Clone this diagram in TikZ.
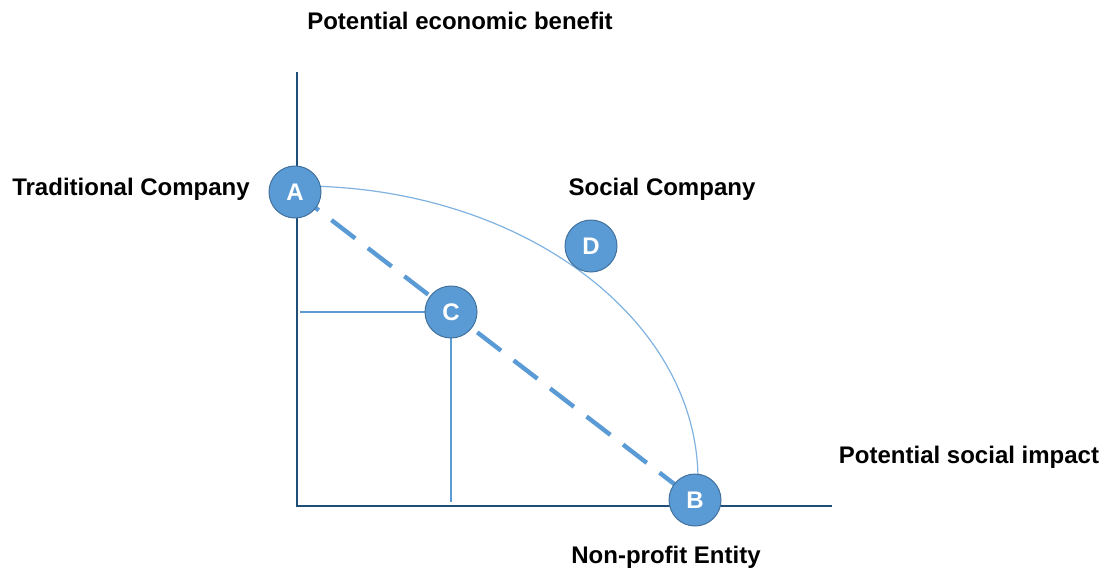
\documentclass[tikz,border=0pt]{standalone}
\usepackage{fontspec}
\setmainfont{Liberation Sans}
\begin{document}
\definecolor{axisblue}{HTML}{1F4E79}
\definecolor{midblue}{HTML}{5B9BD5}
\definecolor{rimblue}{HTML}{41719C}
\definecolor{arcblue}{HTML}{7FB2E0}
\begin{tikzpicture}[x=0.5pt,y=-0.5pt,
  axis/.style={draw=axisblue,line width=1.3pt},
  guide/.style={draw=midblue,line width=1.2pt},
  frontier/.style={draw=arcblue,line width=0.6pt},
  dashline/.style={draw=midblue,line width=2.2pt,dash pattern=on 15pt off 8pt},
  point/.style={circle,fill=midblue,draw=rimblue,line width=0.5pt,minimum size=26pt,inner sep=0pt,
    text=white,font=\bfseries\fontsize{12}{14}\selectfont},
  label/.style={font=\bfseries\fontsize{12}{14}\selectfont,text=black,inner sep=0pt}]
\useasboundingbox (0,0) rectangle (1106,574);
% axes
\coordinate (O) at (297,506);
\coordinate (ytop) at (297,72);
\coordinate (xend) at (832,506);
\draw[axis] (ytop) -- (O) -- (xend);
% points
\coordinate (Apos) at (295,192);
\coordinate (Bpos) at (695,500);
\coordinate (Cpos) at (451,312);
\coordinate (hstart) at (300,312);
\coordinate (vend) at (451,502);
\coordinate (arcstart) at (300,186);
% guide lines from C to the axes
\draw[guide] (hstart) -- (Cpos);
\draw[guide] (Cpos) -- (vend);
% frontier arc from A to B
\draw[frontier] (arcstart) arc[start angle=-90,end angle=0,x radius=398,y radius=294];
% straight trade-off line
\draw[dashline] (Apos) -- (Bpos);
% labelled points
\node[point] (A) at (Apos) {A};
\node[point] (B) at (Bpos) {B};
\node[point] (C) at (Cpos) {C};
\node[point] (D) at (591,246) {D};
% labels
\node[label] (ylab) at (460,21) {Potential economic benefit};
\node[label] (trad) at (131,189) {Traditional Company};
\node[label] (soc) at (662,189) {Social Company};
\node[label] (xlab) at (969,457) {Potential social impact};
\node[label] (np) at (666,557) {Non-profit Entity};
\end{tikzpicture}
\end{document}
